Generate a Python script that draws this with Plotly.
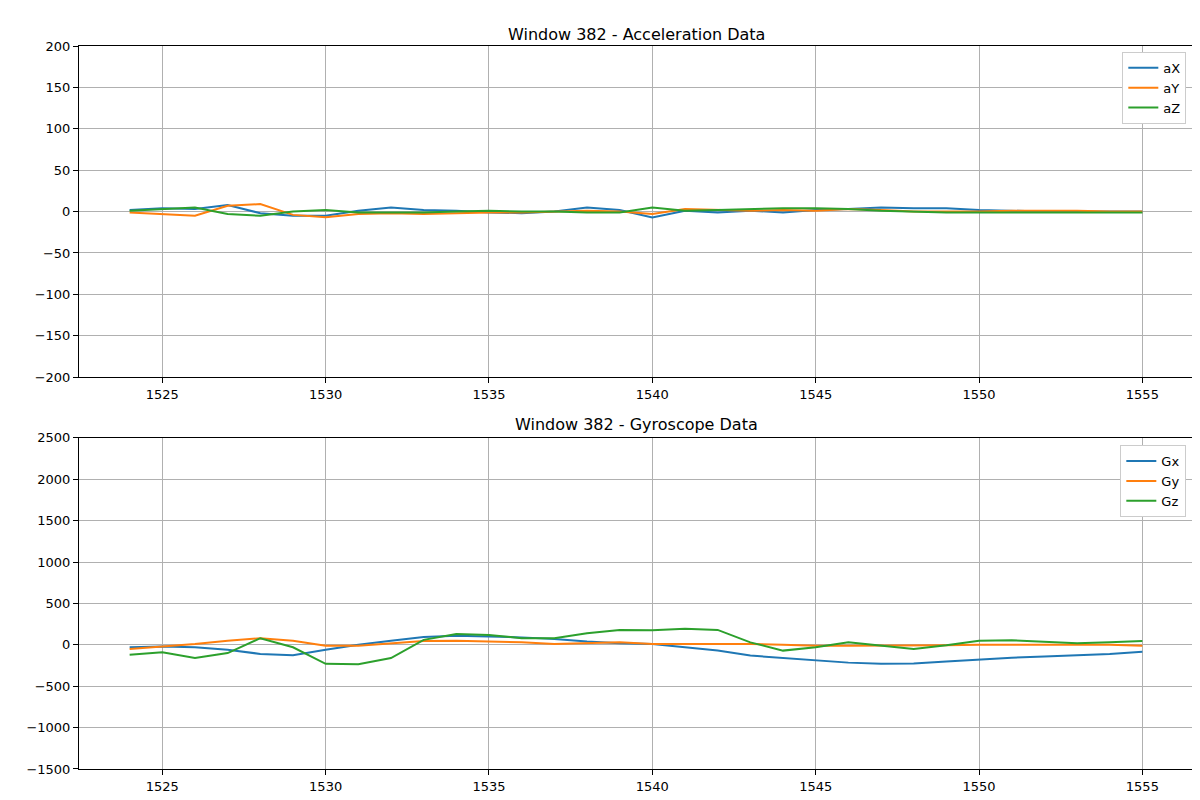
import plotly.graph_objects as go
from plotly.subplots import make_subplots

t = list(range(1524, 1556))
aX = [2, 4, 3, 8, -2, -5, -5, 1, 5, 2, 1, -1, -2, 0, 5, 2, -7, 1, -1, 1, -1, 2, 3, 5, 4, 4, 2, 1, 0, 0, 0, 0]
aY = [-1, -3, -5, 7, 9, -4, -7, -3, -2, -3, -2, -1, -1, 0, 1, 0, -3, 3, 2, 1, 2, 1, 3, 2, 0, 0, 0, 1, 1, 1, 0, 0]
aZ = [1, 3, 5, -3, -5, 0, 2, -1, -1, -1, 0, 1, 0, 0, -1, -1, 5, 1, 2, 3, 4, 4, 3, 1, 0, -1, -1, -1, -1, -1, -1, -1]
Gx = [-30, -20, -30, -60, -110, -125, -60, 0, 50, 95, 110, 100, 90, 70, 40, 20, 10, -30, -70, -130,
      -160, -190, -215, -230, -225, -200, -175, -155, -140, -125, -110, -85]
Gy = [-50, -20, 10, 50, 80, 50, -10, -10, 20, 45, 50, 40, 30, 10, 20, 30, 10, 10, 10, 10,
      0, -10, -10, -10, -5, -5, 0, 0, 0, 0, 0, -10]
Gz = [-120, -90, -160, -100, 80, -30, -230, -235, -160, 60, 130, 120, 80, 80, 140, 180, 175, 195, 180, 30,
      -70, -30, 30, -10, -50, -5, 50, 55, 40, 20, 30, 45]

colors = ["#1f77b4", "#ff7f0e", "#2ca02c"]

fig = make_subplots(rows=2, cols=1, vertical_spacing=0.08,
                    subplot_titles=("Window 382 - Acceleration Data", "Window 382 - Gyroscope Data"))
for name, ys, c in zip(["aX", "aY", "aZ"], [aX, aY, aZ], colors):
    fig.add_trace(go.Scatter(x=t, y=ys, name=name, mode="lines", line=dict(color=c, width=2),
                             legend="legend"), row=1, col=1)
for name, ys, c in zip(["Gx", "Gy", "Gz"], [Gx, Gy, Gz], colors):
    fig.add_trace(go.Scatter(x=t, y=ys, name=name, mode="lines", line=dict(color=c, width=2),
                             legend="legend2"), row=2, col=1)

axis_style = dict(showgrid=True, gridcolor="#b0b0b0", showline=True, linecolor="black", mirror=True,
                  ticks="outside", tickcolor="black", zeroline=False, tickfont=dict(size=13, color="black"))
fig.update_xaxes(range=[1522.45, 1556.55], tickvals=list(range(1525, 1556, 5)), **axis_style)
fig.update_yaxes(range=[-200, 200], dtick=50, row=1, col=1, **axis_style)
fig.update_yaxes(range=[-1500, 2500], dtick=500, row=2, col=1, **axis_style)
fig.update_layout(yaxis=dict(domain=[0.542, 1.0]), yaxis2=dict(domain=[0.0, 0.458]))

leg = dict(bgcolor="white", bordercolor="#cccccc", borderwidth=1, xanchor="right", yanchor="top",
           font=dict(size=13))
fig.update_layout(
    width=1200, height=800, plot_bgcolor="white", paper_bgcolor="white",
    font=dict(family="DejaVu Sans", color="black"),
    margin=dict(l=71, r=15, t=38, b=39),
    legend=dict(x=0.994, y=0.992, **leg),
    legend2=dict(x=0.994, y=0.448, **leg),
)
fig.update_annotations(font=dict(size=16, color="black"))
fig.write_html("out.html")
